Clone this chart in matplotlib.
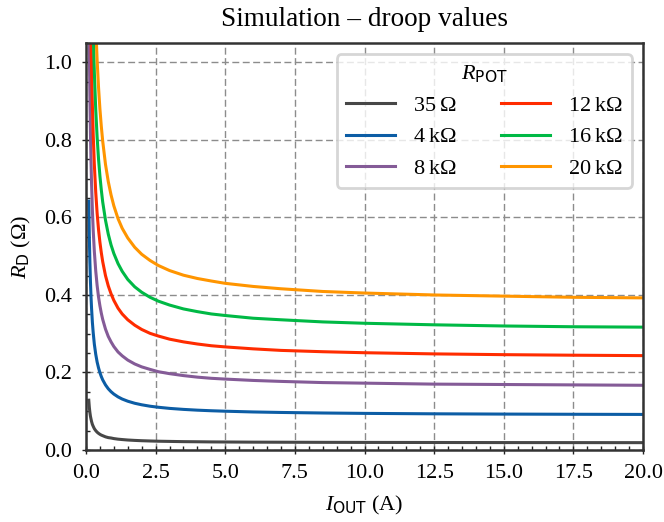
import matplotlib
matplotlib.use("Agg")
import matplotlib.pyplot as plt
from matplotlib.ticker import MultipleLocator

plt.rcParams['font.family'] = ['Liberation Serif', 'DejaVu Serif']
plt.rcParams['mathtext.fontset'] = 'custom'
plt.rcParams['mathtext.rm'] = 'Liberation Serif'
plt.rcParams['mathtext.it'] = 'Liberation Serif:italic'
plt.rcParams['mathtext.sf'] = 'DejaVu Sans'
plt.rcParams['font.size'] = 8

# ---- data ----
i_out = [0.1, 0.12, 0.14, 0.16, 0.18, 0.2, 0.23, 0.26, 0.3, 0.35, 0.4, 0.45, 0.5, 0.55,
         0.6, 0.7, 0.8, 0.9, 1.0, 1.15, 1.3, 1.5, 1.75, 2.0, 2.3, 2.6, 3.0, 3.5, 4.0,
         4.5, 5.0, 6.0, 7.0, 8.5, 10.0, 12.5, 15.0, 17.5, 20.0]

rd_35 = [0.1285, 0.110, 0.097, 0.087, 0.080, 0.0735, 0.066, 0.061, 0.055, 0.050, 0.046,
         0.043, 0.0405, 0.0385, 0.037, 0.034, 0.032, 0.031, 0.0295, 0.028, 0.027, 0.0258,
         0.0248, 0.024, 0.0233, 0.0227, 0.0222, 0.0216, 0.0213, 0.0209, 0.0207, 0.0203,
         0.0201, 0.0198, 0.0196, 0.0194, 0.0192, 0.0191, 0.019]
rd_4k = [0.642, 0.550, 0.484, 0.4346, 0.396, 0.3655, 0.329, 0.302, 0.273, 0.247, 0.227,
         0.212, 0.1996, 0.1895, 0.181, 0.168, 0.158, 0.1504, 0.1443, 0.1371, 0.1315,
         0.1259, 0.1206, 0.1167, 0.113, 0.1103, 0.1074, 0.1048, 0.1028, 0.1013, 0.1001,
         0.0982, 0.0969, 0.0955, 0.0945, 0.0934, 0.0927, 0.0922, 0.0918]
rd_8k = [1.212, 1.037, 0.912, 0.818, 0.745, 0.687, 0.6185, 0.566, 0.512, 0.462, 0.4245,
         0.395, 0.372, 0.353, 0.337, 0.312, 0.293, 0.279, 0.267, 0.253, 0.243, 0.232,
         0.222, 0.2145, 0.208, 0.202, 0.197, 0.192, 0.188, 0.185, 0.183, 0.1795, 0.177,
         0.174, 0.1725, 0.170, 0.169, 0.168, 0.167]
rd_12k = [1.736, 1.486, 1.307, 1.1735, 1.069, 0.986, 0.888, 0.813, 0.736, 0.665, 0.611,
          0.569, 0.536, 0.509, 0.486, 0.450, 0.4235, 0.403, 0.386, 0.366, 0.351, 0.336,
          0.322, 0.311, 0.301, 0.294, 0.286, 0.279, 0.2735, 0.269, 0.266, 0.261, 0.257,
          0.2536, 0.251, 0.248, 0.246, 0.2446, 0.2435]
rd_16k = [2.307, 1.974, 1.736, 1.557, 1.418, 1.307, 1.177, 1.076, 0.974, 0.878, 0.807,
          0.751, 0.707, 0.671, 0.640, 0.593, 0.557, 0.529, 0.507, 0.481, 0.461, 0.440,
          0.421, 0.407, 0.394, 0.384, 0.374, 0.364, 0.357, 0.351, 0.347, 0.340, 0.336,
          0.3305, 0.327, 0.323, 0.320, 0.318, 0.317]
rd_20k = [2.880, 2.463, 2.166, 1.943, 1.769, 1.630, 1.467, 1.342, 1.213, 1.094, 1.005,
          0.936, 0.880, 0.835, 0.797, 0.737, 0.6925, 0.658, 0.630, 0.597, 0.572, 0.547,
          0.523, 0.505, 0.489, 0.476, 0.463, 0.451, 0.4425, 0.436, 0.430, 0.422, 0.416,
          0.409, 0.405, 0.400, 0.397, 0.394, 0.3925]

labels = [r'$35\;\Omega$', r'$4\;\mathrm{k}\Omega$', r'$8\;\mathrm{k}\Omega$',
          r'$12\;\mathrm{k}\Omega$', r'$16\;\mathrm{k}\Omega$', r'$20\;\mathrm{k}\Omega$']
series = [rd_35, rd_4k, rd_8k, rd_12k, rd_16k, rd_20k]
colors = ['#474747', '#0C5DA5', '#845B97', '#FF2C00', '#00B945', '#FF9500']

fig = plt.figure(figsize=(3.32, 2.61), dpi=200)
ax = fig.add_axes([0.1295, 0.1379, 0.9684 - 0.1295, 0.9176 - 0.1379])

for y, lab, c in zip(series, labels, colors):
    ax.plot(i_out, y, color=c, lw=1.1, label=lab)

ax.set_xlim(0, 20)
ax.set_ylim(0, 1.05)
ax.xaxis.set_major_locator(MultipleLocator(2.5))
ax.xaxis.set_minor_locator(MultipleLocator(0.5))
ax.yaxis.set_major_locator(MultipleLocator(0.2))
ax.yaxis.set_minor_locator(MultipleLocator(0.05))

ax.tick_params(which='major', direction='inout', length=3, width=0.5, color='#222222')
ax.tick_params(which='minor', direction='in', length=1.5, width=0.5, color='#222222')

for s in ax.spines.values():
    s.set_linewidth(0.9)
    s.set_color('#333333')

ax.grid(True, which='major', color='0.55', lw=0.5, linestyle=(0, (5, 2.5)))

ax.set_title('Simulation – droop values', fontsize=9.8)
ax.set_xlabel(r'$I_\mathsf{OUT}$ (A)')
ax.set_ylabel(r'$R_\mathsf{D}$ ($\Omega$)')

ax.legend(ncol=2, title=r'$R_\mathsf{POT}$', handlelength=2.2, loc='upper right',
          title_fontsize=8)

fig.savefig('out.png', dpi=200)
